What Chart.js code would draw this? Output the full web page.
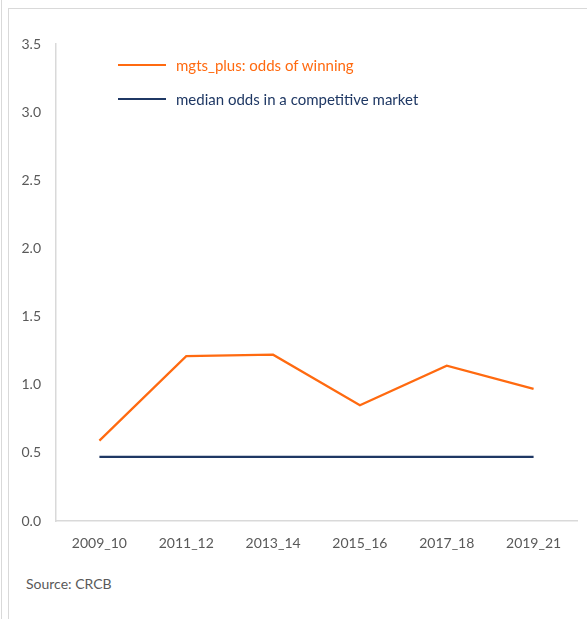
<!DOCTYPE html>
<html>
<head>
<meta charset="utf-8">
<script src="https://cdn.jsdelivr.net/npm/chart.js@4/dist/chart.umd.min.js"></script>
<style>
  body { margin: 0; background: #fff; font-family: Lato, "Open Sans", sans-serif; }
  #page { position: relative; width: 587px; height: 619px; overflow: hidden; }
  .rule { position: absolute; background: #d9d9d9; }
  #wrap { position: absolute; left: 10px; top: 10px; width: 577px; height: 560px; }
  .legend { position: absolute; left: 118px; font-size: 15px; line-height: 18px; }
  .legend span.swatch { position: absolute; left: 0; top: 8px; width: 48px; height: 2px; }
  .legend span.label { position: absolute; left: 58px; top: 0; white-space: nowrap; }
  #source { position: absolute; left: 26px; top: 575px; font-size: 14px; color: #595959; }
</style>
</head>
<body>
<div id="page">
  <div class="rule" style="left:1px; top:0; width:1px; height:619px;"></div>
  <div class="rule" style="left:8px; top:8px; width:1px; height:611px;"></div>
  <div class="rule" style="left:8px; top:8px; width:579px; height:1px;"></div>
  <div id="wrap"><canvas id="chart"></canvas></div>
  <div class="legend" style="top:56px;"><span class="swatch" style="background:#ff6a10"></span><span class="label" style="color:#ff6a10">mgts_plus: odds of winning</span></div>
  <div class="legend" style="top:90px;"><span class="swatch" style="background:#1f3864"></span><span class="label" style="color:#1f3864">median odds in a competitive market</span></div>
  <div id="source">Source: CRCB</div>
</div>
<script>
const periods = ["2009_10", "2011_12", "2013_14", "2015_16", "2017_18", "2019_21"];
const oddsOfWinning = [0.59, 1.21, 1.22, 0.85, 1.14, 0.97];
const medianOdds = [0.47, 0.47, 0.47, 0.47, 0.47, 0.47];
const yTicks = [0, 0.5, 1.0, 1.5, 2.0, 2.5, 3.0, 3.5];

const tickFont = { family: "Lato, 'Open Sans', sans-serif", size: 14 };

const data = {
  labels: periods,
  datasets: [
    {
      label: "mgts_plus: odds of winning",
      data: oddsOfWinning,
      borderColor: "#ff6a10",
      borderWidth: 2.25,
      pointRadius: 0,
      tension: 0,
    },
    {
      label: "median odds in a competitive market",
      data: medianOdds,
      borderColor: "#1f3864",
      borderWidth: 2.25,
      pointRadius: 0,
      tension: 0,
    },
  ],
};

const options = {
  responsive: true,
  maintainAspectRatio: false,
  animation: false,
  layout: { padding: { top: 34, right: 10, left: 0, bottom: 10 } },
  plugins: {
    legend: { display: false },
    tooltip: { enabled: false },
  },
  scales: {
    x: {
      offset: true,
      grid: { display: false, drawTicks: false },
      border: { display: true, color: "#d9d9d9", width: 1.5 },
      ticks: { color: "#595959", font: tickFont, padding: 14, maxRotation: 0 },
      afterFit: (scale) => { scale.height = 39; },
    },
    y: {
      min: 0,
      max: 3.5,
      grid: { display: false, drawTicks: false },
      border: { display: true, color: "#d9d9d9", width: 1.5 },
      afterBuildTicks: (scale) => { scale.ticks = yTicks.map((v) => ({ value: v })); },
      ticks: {
        color: "#595959",
        font: tickFont,
        padding: 15,
        callback: (v) => Number(v).toFixed(1),
      },
      afterFit: (scale) => { scale.width = 46; },
    },
  },
};

var chart = new Chart(document.getElementById("chart").getContext("2d"), {
  type: "line",
  data: data,
  options: options,
});
</script>
</body>
</html>
